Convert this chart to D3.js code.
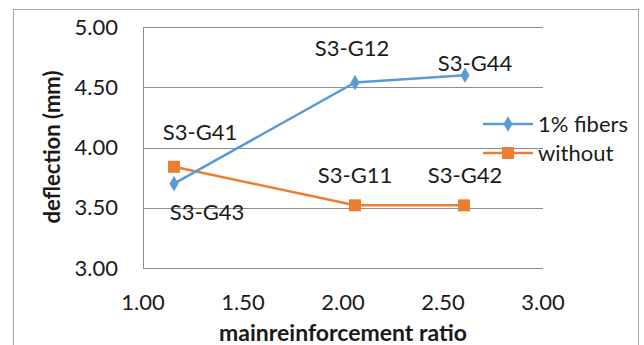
<!DOCTYPE html>
<html>
<head>
<meta charset="utf-8">
<script src="https://cdn.jsdelivr.net/npm/d3@7"></script>
<style>
  body { margin: 0; background: #fff; }
  svg text { font-family: Lato, "Open Sans", sans-serif; fill: #1a1a1a; }
</style>
</head>
<body>
<svg width="644" height="345"></svg>
<script>
// données
const series = ["1% fibers", "without"];
const colors = ["#5B9BD5", "#ED7D31"];
const ratioFibers = [1.155, 2.06, 2.61];
const deflFibers = [3.70, 4.54, 4.60];
const ratioWithout = [1.155, 2.06, 2.605];
const deflWithout = [3.84, 3.52, 3.52];
const labelsFibers = ["S3-G43", "S3-G12", "S3-G44"];
const labelsWithout = ["S3-G41", "S3-G11", "S3-G42"];
const xTicks = [1.00, 1.50, 2.00, 2.50, 3.00];
const yTicks = [3.00, 3.50, 4.00, 4.50, 5.00];

const svg = d3.select("svg"),
      margin = { top: 27, right: 101, bottom: 77, left: 143 },
      width = 644 - margin.left - margin.right,
      height = 345 - margin.top - margin.bottom;

// cadre extérieur
svg.append("rect")
    .attr("x", 13.5).attr("y", 9.5)
    .attr("width", 625).attr("height", 345)
    .attr("fill", "none")
    .attr("stroke", "#a6a6a6");

const g = svg.append("g")
    .attr("transform", `translate(${margin.left},${margin.top})`);

const x = d3.scaleLinear().domain([1, 3]).range([0, width]);
const y = d3.scaleLinear().domain([3, 5]).range([height, 0]);

// grille horizontale
g.selectAll(".grid")
    .data(yTicks)
    .enter().append("line")
    .attr("x1", 0).attr("x2", width)
    .attr("y1", d => Math.round(y(d)) + 0.5)
    .attr("y2", d => Math.round(y(d)) + 0.5)
    .attr("stroke", "#8c8c8c")
    .attr("stroke-width", 1);

// axe vertical
g.append("line")
    .attr("x1", 0.5).attr("x2", 0.5)
    .attr("y1", 0).attr("y2", height)
    .attr("stroke", "#8c8c8c");

// étiquettes des axes
g.selectAll(".ytick")
    .data(yTicks)
    .enter().append("text")
    .attr("x", -25)
    .attr("y", d => y(d))
    .attr("dy", "0.35em")
    .attr("text-anchor", "end")
    .attr("font-size", 22)
    .text(d => d.toFixed(2));

g.selectAll(".xtick")
    .data(xTicks)
    .enter().append("text")
    .attr("x", d => x(d))
    .attr("y", height + 34)
    .attr("dy", "0.35em")
    .attr("text-anchor", "middle")
    .attr("font-size", 22)
    .text(d => d.toFixed(2));

// titres
svg.append("text")
    .attr("transform", "translate(52,147) rotate(-90)")
    .attr("dy", "0.35em")
    .attr("text-anchor", "middle")
    .attr("font-size", 22)
    .attr("font-weight", "bold")
    .text("deflection (mm)");

svg.append("text")
    .attr("x", margin.left + x(2))
    .attr("y", 333)
    .attr("dy", "0.35em")
    .attr("text-anchor", "middle")
    .attr("font-size", 23)
    .attr("font-weight", "bold")
    .text("mainreinforcement ratio");

const line = d3.line().x(d => x(d[0])).y(d => y(d[1]));

const dataFibers = ratioFibers.map((r, i) => [r, deflFibers[i]]);
const dataWithout = ratioWithout.map((r, i) => [r, deflWithout[i]]);

// série sans fibres
g.append("path")
    .datum(dataWithout)
    .attr("d", line)
    .attr("fill", "none")
    .attr("stroke", colors[1])
    .attr("stroke-width", 2.5);

g.selectAll(".sq")
    .data(dataWithout)
    .enter().append("rect")
    .attr("x", d => x(d[0]) - 6)
    .attr("y", d => y(d[1]) - 6)
    .attr("width", 12).attr("height", 12)
    .attr("fill", colors[1]);

// série 1% fibres
g.append("path")
    .datum(dataFibers)
    .attr("d", line)
    .attr("fill", "none")
    .attr("stroke", colors[0])
    .attr("stroke-width", 2.5);

const diamond = d3.symbol().type(d3.symbolDiamond).size(70);
g.selectAll(".dm")
    .data(dataFibers)
    .enter().append("path")
    .attr("d", diamond)
    .attr("transform", d => `translate(${x(d[0])},${y(d[1])})`)
    .attr("fill", colors[0]);

// étiquettes des points
const labelOffsets = {
    fibers: [[33, 29], [-3, -34], [10, -12]],
    without: [[26, -34], [0, -30], [1, -30]]
};

g.selectAll(".lf")
    .data(dataFibers)
    .enter().append("text")
    .attr("x", (d, i) => x(d[0]) + labelOffsets.fibers[i][0])
    .attr("y", (d, i) => y(d[1]) + labelOffsets.fibers[i][1])
    .attr("dy", "0.35em")
    .attr("text-anchor", "middle")
    .attr("font-size", 22)
    .text((d, i) => labelsFibers[i]);

g.selectAll(".lw")
    .data(dataWithout)
    .enter().append("text")
    .attr("x", (d, i) => x(d[0]) + labelOffsets.without[i][0])
    .attr("y", (d, i) => y(d[1]) + labelOffsets.without[i][1])
    .attr("dy", "0.35em")
    .attr("text-anchor", "middle")
    .attr("font-size", 22)
    .text((d, i) => labelsWithout[i]);

// légende
const legend = svg.selectAll(".legend")
    .data(series)
    .enter().append("g")
    .attr("transform", (d, i) => `translate(483,${124 + i * 29})`);

legend.append("line")
    .attr("x1", 0).attr("x2", 50)
    .attr("stroke", (d, i) => colors[i])
    .attr("stroke-width", 2.5);

legend.filter((d, i) => i === 0).append("path")
    .attr("d", diamond)
    .attr("transform", "translate(25,0)")
    .attr("fill", colors[0]);

legend.filter((d, i) => i === 1).append("rect")
    .attr("x", 19).attr("y", -6)
    .attr("width", 12).attr("height", 12)
    .attr("fill", colors[1]);

legend.append("text")
    .attr("x", 55)
    .attr("dy", "0.35em")
    .attr("font-size", 22)
    .text(d => d);
</script>
</body>
</html>
